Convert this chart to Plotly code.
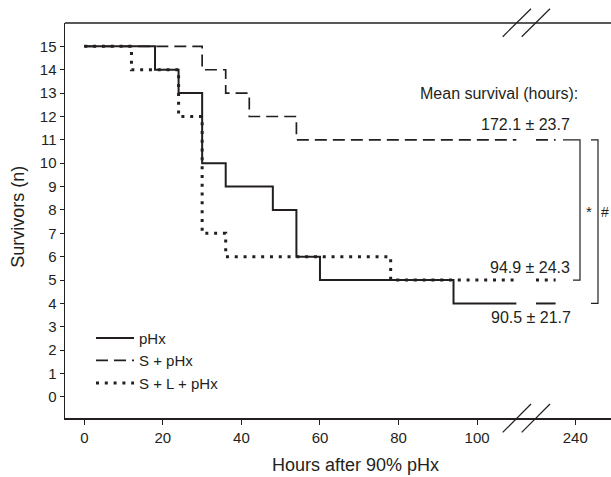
import plotly.graph_objects as go

# ---------------- data ----------------
series_names = ["pHx", "S + pHx", "S + L + pHx"]
hours_pHx = [0, 18, 24, 30, 36, 48, 54, 60, 94]
surv_pHx = [15, 14, 13, 10, 9, 8, 6, 5, 4]
hours_S = [0, 30, 36, 42, 54]
surv_S = [15, 14, 13, 12, 11]
hours_SL = [0, 12, 24, 30, 36, 78]
surv_SL = [15, 14, 12, 7, 6, 5]
mean_survival = ["90.5 ± 21.7", "172.1 ± 23.7", "94.9 ± 24.3"]
x_tick_hours = [0, 20, 40, 60, 80, 100, 240]
y_tick_vals = list(range(0, 16))

# broken axis: linear up to BREAK_START, then resumes (compressed) near 240 h
BREAK_START = 110
BREAK_END = 220
FOLLOWUP_END = 230


def axis_x(h):
    if h <= BREAK_START:
        return h
    return 125 - (240 - h) * 0.5


INK = "#231f20"
FONT = "Liberation Sans, Arial, sans-serif"

styles = [
    dict(color=INK, width=2.0, dash="solid"),
    dict(color=INK, width=1.7, dash="12px,6px"),
    dict(color=INK, width=3.0, dash="3px,5.8px"),
]

fig = go.Figure()
all_series = [(hours_pHx, surv_pHx), (hours_S, surv_S), (hours_SL, surv_SL)]
for i, (hrs, sv) in enumerate(all_series):
    xs = [axis_x(h) for h in hrs] + [axis_x(BREAK_START)]
    ys = sv + [sv[-1]]
    fig.add_trace(go.Scatter(x=xs, y=ys, mode="lines", line=styles[i], line_shape="hv",
                             name=series_names[i], legendgroup=series_names[i]))
    fig.add_trace(go.Scatter(x=[axis_x(BREAK_END), axis_x(FOLLOWUP_END)], y=[sv[-1], sv[-1]],
                             mode="lines", line=styles[i], showlegend=False,
                             legendgroup=series_names[i], hoverinfo="skip"))

L, T, W, H = 65, 23.3, 546, 395


def px(xpix):
    return (xpix - L) / W


def py(ypix):
    return (T + H - ypix) / H


shapes = []
# top frame line (plot area top edge)
shapes.append(dict(type="line", xref="paper", yref="paper", x0=0, y0=1, x1=1, y1=1,
                   line=dict(color=INK, width=1.5)))
# axis break marks (bottom and top)
for (x0, y0, x1, y1) in [(502.7, 432.7, 531, 404.3), (521.7, 432.7, 550, 404.3),
                         (502.7, 37, 531, 9), (521.7, 37, 550, 9)]:
    shapes.append(dict(type="line", xref="paper", yref="paper", x0=px(x0), y0=py(y0),
                       x1=px(x1), y1=py(y1), line=dict(color=INK, width=1.2)))
# significance brackets
shapes.append(dict(type="path", xref="paper", yref="y",
                   path=f"M {px(563)},{surv_S[-1]} L {px(580)},{surv_S[-1]} L {px(580)},{surv_SL[-1]} L {px(573)},{surv_SL[-1]}",
                   line=dict(color=INK, width=1.2)))
shapes.append(dict(type="path", xref="paper", yref="y",
                   path=f"M {px(591)},{surv_S[-1]} L {px(598)},{surv_S[-1]} L {px(598)},{surv_pHx[-1]} L {px(591)},{surv_pHx[-1]}",
                   line=dict(color=INK, width=1.2)))

ann_font = dict(family=FONT, size=16, color=INK)
annotations = [
    dict(text="Mean survival (hours):", xref="paper", yref="y", x=px(580), y=13.0,
         xanchor="right", yanchor="middle", showarrow=False, font=ann_font),
    dict(text=mean_survival[1], xref="paper", yref="y", x=px(572), y=11.64,
         xanchor="right", yanchor="middle", showarrow=False, font=ann_font),
    dict(text=mean_survival[2], xref="paper", yref="y", x=px(572), y=5.53,
         xanchor="right", yanchor="middle", showarrow=False, font=ann_font),
    dict(text=mean_survival[0], xref="paper", yref="y", x=px(573), y=3.39,
         xanchor="right", yanchor="middle", showarrow=False, font=ann_font),
    dict(text="*", xref="paper", yref="y", x=px(589), y=7.93,
         xanchor="center", yanchor="middle", showarrow=False, font=dict(family=FONT, size=15, color=INK)),
    dict(text="#", xref="paper", yref="y", x=px(605), y=7.93,
         xanchor="center", yanchor="middle", showarrow=False, font=dict(family=FONT, size=14, color=INK)),
    # axis titles
    dict(text="Hours after 90% pHx", xref="paper", yref="paper", x=px(355), y=py(465),
         xanchor="center", yanchor="middle", showarrow=False, font=dict(family=FONT, size=18, color=INK)),
    dict(text="Survivors (n)", xref="paper", yref="paper", x=px(18), y=py(217), textangle=-90,
         xanchor="center", yanchor="middle", showarrow=False, font=dict(family=FONT, size=18, color=INK)),
]

fig.update_layout(
    width=611, height=477,
    margin=dict(l=L, r=0, t=T, b=477 - T - H, pad=0, autoexpand=False),
    paper_bgcolor="white", plot_bgcolor="white",
    font=dict(family=FONT, size=15, color=INK),
    showlegend=True,
    legend=dict(x=px(91), y=py(322), xanchor="left", yanchor="top",
                bgcolor="rgba(0,0,0,0)", font=dict(family=FONT, size=15, color=INK),
                tracegroupgap=0, itemwidth=38),
    shapes=shapes,
    annotations=annotations,
)

fig.update_xaxes(
    range=[-4.92, 134.1], automargin=False,
    tickmode="array",
    tickvals=[axis_x(h) for h in x_tick_hours],
    ticktext=[str(h) for h in x_tick_hours],
    ticks="outside", ticklen=5, tickwidth=1, tickcolor=INK,
    showline=True, linecolor=INK, linewidth=1.5, mirror=False,
    showgrid=False, zeroline=False,
    tickfont=dict(family=FONT, size=15, color=INK),
)
fig.update_yaxes(
    range=[-0.9, 16.0], automargin=False,
    tickmode="array", tickvals=y_tick_vals, ticktext=[str(v) for v in y_tick_vals],
    ticks="outside", ticklen=4, tickwidth=1, tickcolor=INK,
    showline=True, linecolor=INK, linewidth=1.5, mirror=False,
    showgrid=False, zeroline=False,
    tickfont=dict(family=FONT, size=15, color=INK),
)

fig.write_html("out.html", config={"displayModeBar": False, "staticPlot": True},
               post_script="document.body.style.margin='0px';document.body.style.overflow='hidden';"
                           "document.documentElement.style.overflow='hidden';")
